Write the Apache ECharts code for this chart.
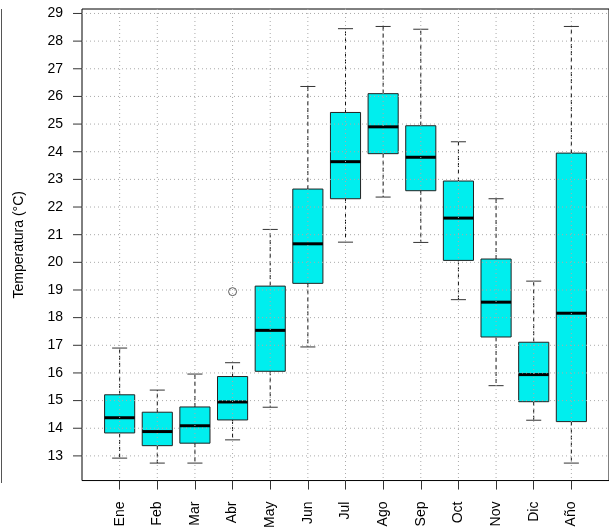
<!DOCTYPE html>
<html><head><meta charset="utf-8">
<script src="https://cdn.jsdelivr.net/npm/echarts@6/dist/echarts.min.js"></script>
<style>html,body{margin:0;padding:0;background:#fff}#c{width:609px;height:531px}</style>
</head><body><div id="c"></div>
<script>
const categories = ['Ene','Feb','Mar','Abr','May','Jun','Jul','Ago','Sep','Oct','Nov','Dic','Año'];
const whiskerLow  = [12.92,12.74,12.74,13.58,14.76,16.94,20.73,22.36,20.72,18.65,15.54,14.29,12.74];
const q1          = [13.83,13.37,13.46,14.30,16.06,19.24,22.30,23.93,22.59,20.07,17.30,14.96,14.24];
const median      = [14.38,13.88,14.09,14.95,17.54,20.67,23.64,24.90,23.80,21.60,18.56,15.94,18.16];
const q3          = [15.21,14.58,14.77,15.87,19.14,22.65,25.42,26.10,24.94,22.94,20.12,17.11,23.95];
const whiskerHigh = [16.90,15.38,15.96,16.37,21.19,26.36,28.45,28.53,28.43,24.36,22.30,19.32,28.53];
const outlierCats = ['Abr'];
const outlierVals = [18.94];
const yTicks = [13,14,15,16,17,18,19,20,21,22,23,24,25,26,27,28,29];
const yTitle = 'Temperatura (°C)';

const FONT = '"Liberation Sans", Arial, sans-serif';
const axisCats = [''].concat(categories, [' ']);
const inner = (i) => i >= 1 && i <= categories.length;

const boxData = categories.map((c, i) => [i + 1, whiskerLow[i], q1[i], median[i], q3[i], whiskerHigh[i]]);
const outData = outlierCats.map((c, i) => [categories.indexOf(c) + 1, outlierVals[i]]);
const allVals = whiskerLow.concat(whiskerHigh, outlierVals);
const dMin = Math.min.apply(null, allVals), dMax = Math.max.apply(null, allVals);
const pad = (dMax - dMin) * 0.04;

const chart = echarts.init(document.getElementById('c'), null, {renderer: 'canvas'});
chart.setOption({
  animation: false,
  backgroundColor: '#fff',
  grid: {left: 82, top: 9, width: 528, height: 474, show: true, borderColor: '#000', borderWidth: 1, backgroundColor: 'transparent'},
  xAxis: {
    type: 'category', data: axisCats, boundaryGap: false,
    axisLine: {show: false},
    axisTick: {show: true, interval: inner, length: 9, lineStyle: {color: '#333', width: 1}},
    axisLabel: {show: true, interval: inner, rotate: 90, margin: 21, color: '#000', fontSize: 14, fontFamily: FONT},
    splitLine: {show: false}
  },
  yAxis: {
    type: 'value', min: dMin - pad, max: dMax + pad,
    axisLine: {show: false}, axisTick: {show: false}, axisLabel: {show: false}, splitLine: {show: false},
    name: yTitle, nameLocation: 'middle', nameRotate: 90, nameGap: 56,
    nameTextStyle: {color: '#000', fontSize: 14, fontFamily: FONT}
  },
  graphic: [{type: 'line', shape: {x1: 1.5, y1: 9, x2: 1.5, y2: 483}, style: {stroke: '#555', lineWidth: 1}}],
  series: [
    {
      type: 'custom', clip: false, z: 2, data: boxData,
      renderItem: function (params, api) {
        const x = api.value(0);
        const lo = api.coord([x, api.value(1)]);
        const b1 = api.coord([x, api.value(2)]);
        const md = api.coord([x, api.value(3)]);
        const b3 = api.coord([x, api.value(4)]);
        const hi = api.coord([x, api.value(5)]);
        const bw = api.size([1, 0])[0] * 0.8;
        const cx = lo[0], half = bw / 2, cap = bw / 4;
        const cs = params.coordSys;
        const wl = {stroke: '#111', lineWidth: 1, lineDash: [4, 3]};
        const cl = {stroke: '#333', lineWidth: 1};
        return {type: 'group', children: [
          {type: 'line', shape: {x1: cx, y1: b3[1], x2: cx, y2: hi[1]}, style: wl},
          {type: 'line', shape: {x1: cx, y1: b1[1], x2: cx, y2: lo[1]}, style: wl},
          {type: 'line', shape: {x1: cx - cap, y1: hi[1], x2: cx + cap, y2: hi[1]}, style: cl},
          {type: 'line', shape: {x1: cx - cap, y1: lo[1], x2: cx + cap, y2: lo[1]}, style: cl},
          {type: 'rect', shape: {x: cx - half, y: b3[1], width: bw, height: b1[1] - b3[1]}, style: {fill: '#00EEEE', stroke: '#222', lineWidth: 1}},
          {type: 'line', shape: {x1: cx - half, y1: md[1], x2: cx + half, y2: md[1]}, style: {stroke: '#000', lineWidth: 3}},
          {type: 'line', shape: {x1: cx, y1: cs.y, x2: cx, y2: cs.y + cs.height}, style: {stroke: '#aaa', lineWidth: 1, lineDash: [1, 3]}}
        ]};
      }
    },
    {
      type: 'scatter', z: 3, data: outData, symbol: 'circle', symbolSize: 8,
      itemStyle: {color: 'rgba(0,0,0,0)', borderColor: '#333', borderWidth: 1}
    },
    {
      type: 'custom', clip: false, z: 4, data: yTicks.map(v => [0, v]),
      renderItem: function (params, api) {
        const p = api.coord([0, api.value(1)]);
        const cs = params.coordSys;
        return {type: 'group', children: [
          {type: 'line', shape: {x1: cs.x, y1: p[1], x2: cs.x + cs.width, y2: p[1]}, style: {stroke: '#aaa', lineWidth: 1, lineDash: [1, 3]}},
          {type: 'line', shape: {x1: cs.x - 9, y1: p[1], x2: cs.x, y2: p[1]}, style: {stroke: '#333', lineWidth: 1}},
          {type: 'text', x: cs.x - 19, y: p[1], style: {text: String(api.value(1)), align: 'right', verticalAlign: 'middle', fill: '#000', fontSize: 14, fontFamily: FONT}}
        ]};
      }
    }
  ]
});
</script></body></html>
